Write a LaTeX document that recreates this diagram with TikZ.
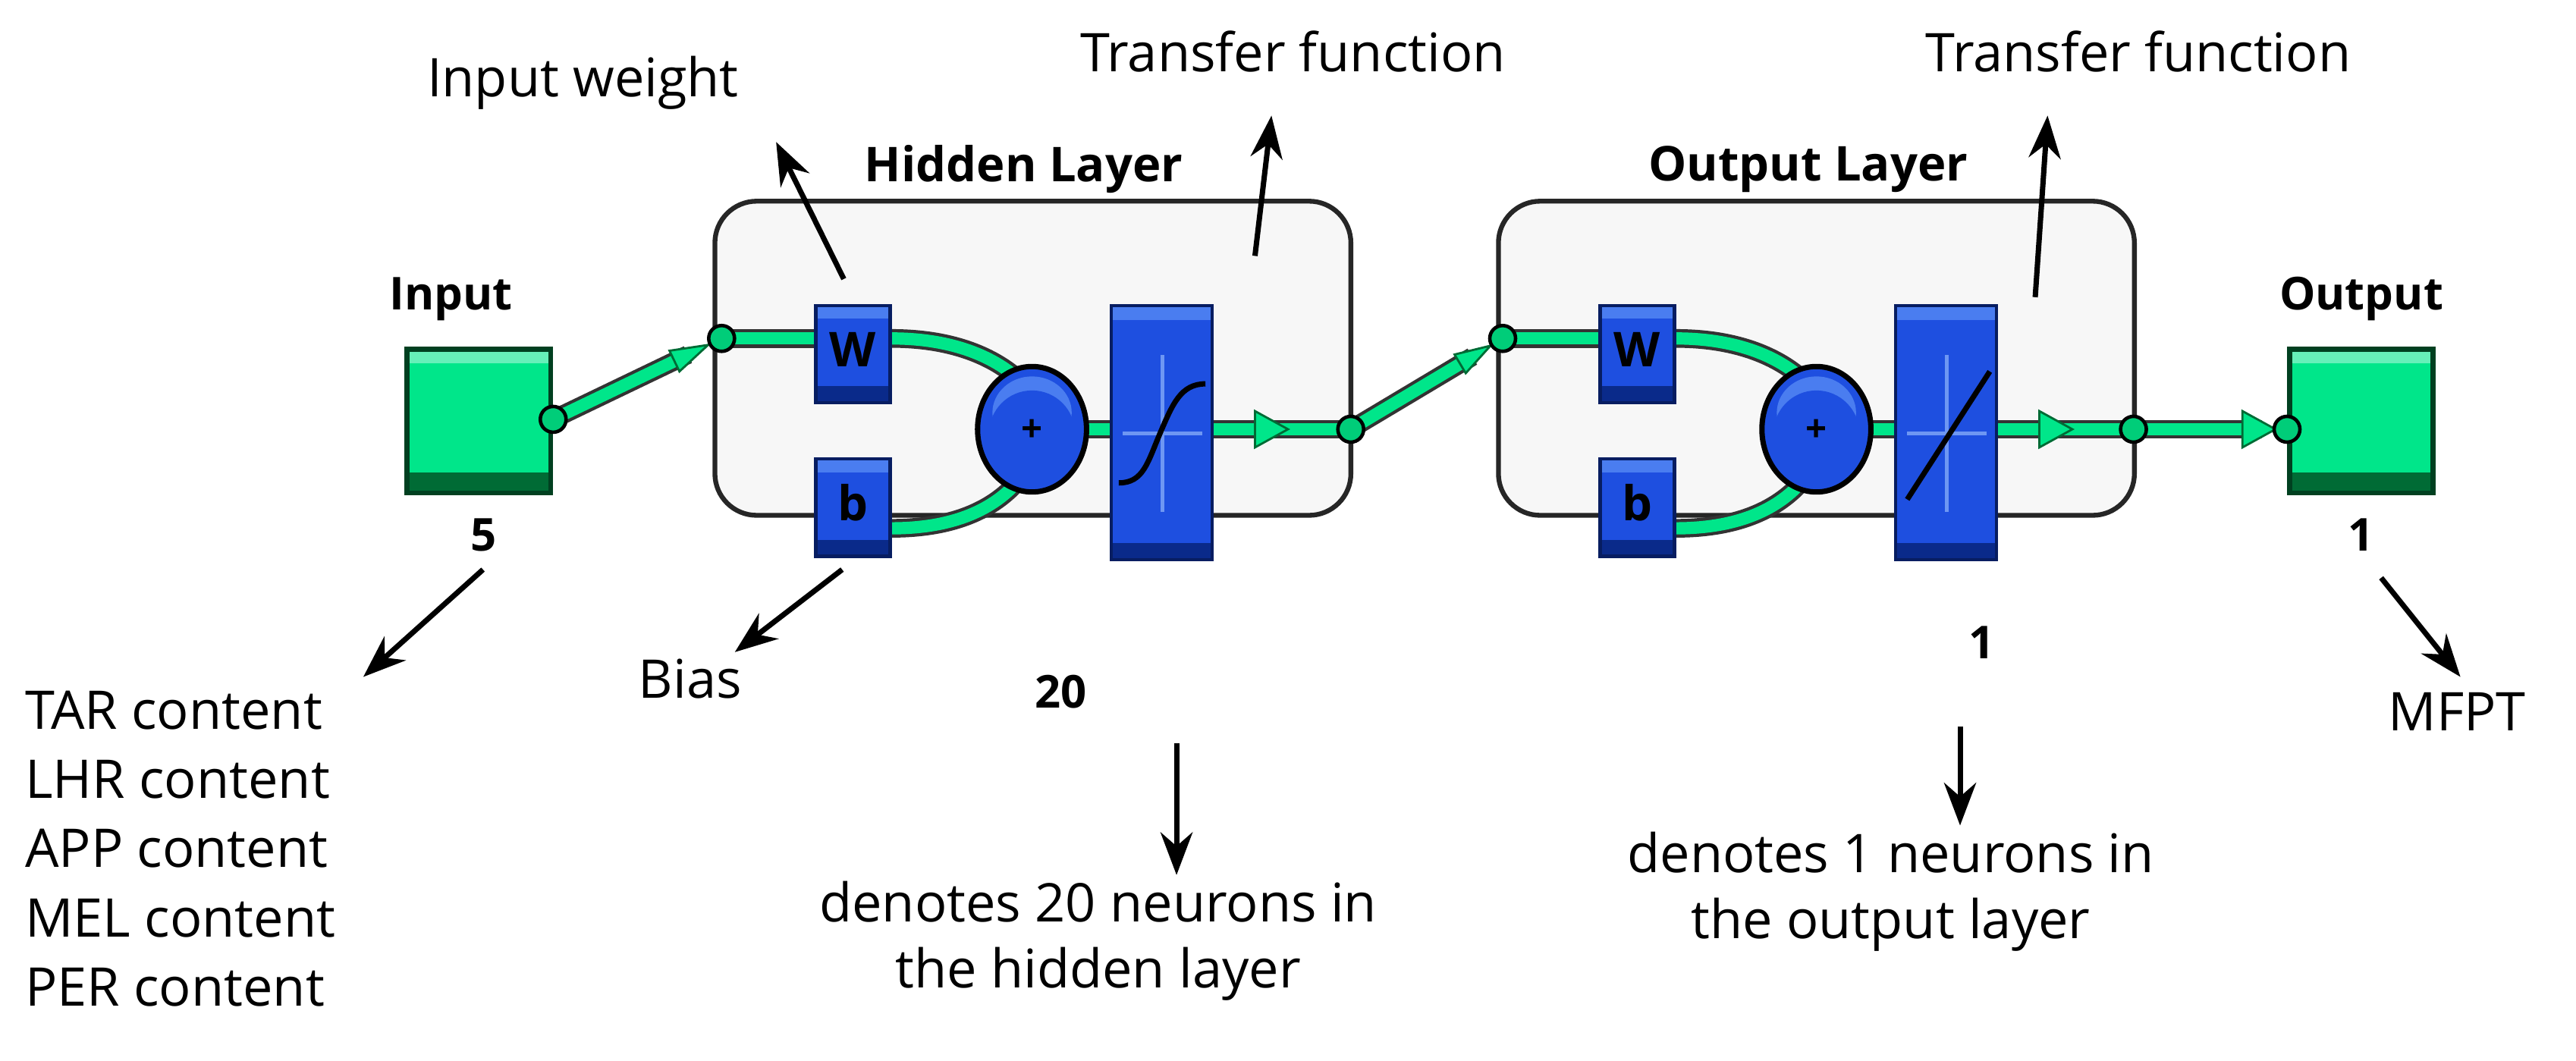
\documentclass[tikz,border=0pt]{standalone}
\usepackage{fontspec}
\setmainfont{Open Sans}
\usetikzlibrary{arrows.meta,calc}
\definecolor{gr}{HTML}{00E68A}
\definecolor{dgr}{HTML}{006B35}
\definecolor{bl}{HTML}{1E4FE0}
\definecolor{dbl}{HTML}{0A2A8A}
\definecolor{lbl}{HTML}{4A7DF0}
\begin{document}
\begin{tikzpicture}[x=0.010885cm,y=-0.010885cm,
 lab/.style={font=\fontsize{20}{24}\selectfont,inner sep=0pt},
 blab/.style={font=\fontsize{18}{21}\selectfont\bfseries,inner sep=0pt},
 slab/.style={font=\fontsize{17}{20}\selectfont\bfseries,inner sep=0pt},
 ptr/.style={line width=2pt,-{Stealth[length=16pt,width=12pt]}},
 wire/.style={line width=7pt,draw=black!80},
 wirein/.style={line width=4.6pt,draw=gr},
 jn/.style={circle,draw=black,line width=1.3pt,fill=gr!80!dgr,minimum size=0.34cm,inner sep=0pt},
 layer/.style={draw=black!85,line width=1.8pt,fill=gray!6,rounded corners=0.55cm}]
\useasboundingbox (0,0) rectangle (3120,1285);
% coordinates
\coordinate (inR) at (670,508);
\coordinate (j1) at (874,410);
\coordinate (h1) at (1636,520);
\coordinate (j2) at (1820,410);
\coordinate (o1) at (2584,520);
\coordinate (outL) at (2770,520);
% layer boxes
\node[layer,minimum width=8.38cm,minimum height=4.14cm] (HL) at (1251,434) {};
\node[layer,minimum width=8.38cm,minimum height=4.14cm] (OL) at (2200,434) {};
\node[blab] (hlt) at (1240,205) {Hidden Layer};
\node[blab] (olt) at (2190,205) {Output Layer};
% input/output boxes
\foreach \n/\x in {inbox/580,outbox/2860}{
 \fill[dgr!60!black] (\x-90,420) rectangle (\x+90,600);
 \fill[gr] (\x-84,426) rectangle (\x+84,578);
 \fill[dgr] (\x-84,572) rectangle (\x+84,594);
 \fill[gr!60!white] (\x-84,426) rectangle (\x+84,440);
 \node (\n) at (\x,510) [minimum width=1.96cm,minimum height=1.96cm] {};
}
\node[slab] (inl) at (546,362) {Input};
\node[slab] (outl) at (2860,362) {Output};
\node[slab] (n5) at (586,648) {5};
\node[slab] (n1o) at (2860,648) {1};
\node[slab] (n20) at (1285,838) {20};
\node[slab] (n1) at (2400,778) {1};
% wires
\foreach \o in {0,950}{
 \begin{scope}[xshift=\o*0.010885cm]
 \coordinate (wR) at (1080,410);
 \coordinate (bR) at (1080,640);
 \coordinate (pT) at (1232,458);
 \coordinate (pB) at (1232,584);
 \foreach \s in {wire,wirein}{
  \draw[\s] (874,410) -- (990,410);
  \draw[\s] (wR) .. controls (1150,410) and (1200,430) .. (pT);
  \draw[\s] (bR) .. controls (1150,640) and (1200,620) .. (pB);
  \draw[\s] (1310,520) -- (1350,520);
  \draw[\s] (1465,520) -- (1636,520);
 }
 \end{scope}
}
\foreach \s in {wire,wirein}{
 \draw[\s] (inR) -- ($(inR)!0.8!(j1)$);
 \draw[\s] (h1) -- ($(h1)!0.8!(j2)$);
 \draw[\s] (o1) -- (2740,520);
}
% arrowheads
\foreach \a/\b in {inR/j1,h1/j2}{
 \fill[gr,draw=dgr,line width=0.8pt] ($(\a)!0.92!(\b)$) -- ($(\a)!0.72!(\b)!0.22!90:(\b)$) -- ($(\a)!0.72!(\b)!0.22!-90:(\b)$) -- cycle;
}
\fill[gr,draw=dgr,line width=0.8pt] (1560,520) -- (1520,498) -- (1520,542) -- cycle;
\fill[gr,draw=dgr,line width=0.8pt] (2510,520) -- (2470,498) -- (2470,542) -- cycle;
\fill[gr,draw=dgr,line width=0.8pt] (2756,520) -- (2716,498) -- (2716,542) -- cycle;
% blue boxes
\foreach \o/\k in {0/a,950/b}{
 \begin{scope}[xshift=\o*0.010885cm]
 \foreach \yy/\t in {368/W,554/b}{
  \fill[dbl!70!black] (986,\yy) rectangle (1080,\yy+122);
  \fill[bl] (990,\yy+4) rectangle (1076,\yy+104);
  \fill[lbl] (990,\yy+4) rectangle (1076,\yy+18);
  \fill[dbl] (990,\yy+100) rectangle (1076,\yy+118);
  \node[font=\fontsize{18}{20}\selectfont\bfseries,text=black] at (1033,\yy+55) {\t};
 }
 \fill[dbl!70!black] (1344,368) rectangle (1470,680);
 \fill[bl] (1348,372) rectangle (1466,660);
 \fill[lbl] (1348,372) rectangle (1466,388);
 \fill[dbl] (1348,658) rectangle (1466,676);
 \draw[lbl!80!white,line width=1.3pt] (1408,430) -- (1408,620) (1360,525) -- (1456,525);
 \filldraw[fill=bl,draw=black,line width=2pt] (1250,520) ellipse (66 and 76);
 \fill[lbl] (1250,500) ellipse (48 and 44);
 \fill[bl] (1250,525) ellipse (52 and 52);
 \node[font=\fontsize{14}{15}\selectfont\bfseries] at (1250,522) {+};
 \end{scope}
}
\draw[line width=2pt] (1355,585) .. controls (1385,585) and (1390,560) .. (1405,525) .. controls (1420,490) and (1430,465) .. (1460,465);
\draw[line width=2pt] (2310,605) -- (2410,450);
% junctions
\foreach \p/\n in {inR/ja,j1/jb,h1/jc,j2/jd,o1/je,outL/jf}{
 \node[jn] (\n) at (\p) {};
}
% labels and pointers
\node[lab] (iw) at (706,100) {Input weight};
\draw[ptr] (1022,338) -- (940,172);
\node[lab] (tf1) at (1566,62) {Transfer function};
\draw[ptr] (1520,310) -- (1540,140);
\node[lab] (tf2) at (2590,62) {Transfer function};
\draw[ptr] (2465,360) -- (2480,140);
\node[lab] (bias) at (836,822) {Bias};
\draw[ptr] (1020,690) -- (890,790);
\draw[ptr] (585,690) -- (440,820);
\node[lab,align=left,anchor=north west,font=\fontsize{20}{26}\selectfont] (lst) at (30,836) {TAR content\\LHR content\\APP content\\MEL content\\PER content};
\draw[ptr] (1425,900) -- (1425,1060);
\node[lab,align=center,font=\fontsize{20}{24.7}\selectfont] (d20) at (1330,1140) {denotes 20 neurons in\\the hidden layer};
\draw[ptr] (2374,880) -- (2374,1000);
\node[lab,align=center,font=\fontsize{20}{24.7}\selectfont] (d1) at (2290,1080) {denotes 1 neurons in\\the output layer};
\draw[ptr] (2884,700) -- (2980,820);
\node[lab] (mf) at (2976,862) {MFPT};
\end{tikzpicture}
\end{document}
